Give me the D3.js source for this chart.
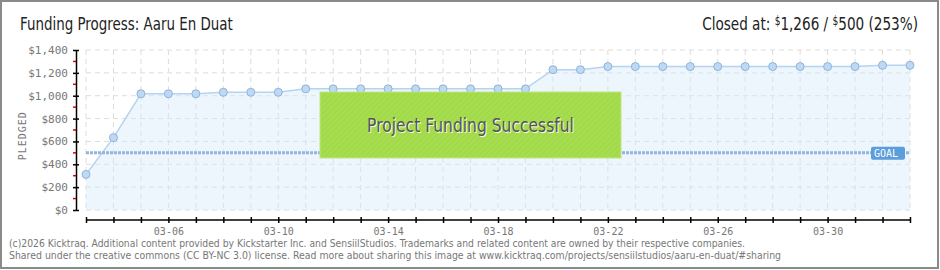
<!DOCTYPE html>
<html lang="en">
<head>
    <meta charset="UTF-8">
    <title>Funding Progress: Aaru En Duat</title>
    <script src="https://d3js.org/d3.v7.min.js"></script>
    <style>
        body { margin: 0; background: #fff; }
        svg { display: block; }
        .title { font-family: "DejaVu Sans", sans-serif; fill: #222; }
        .tick-label { font-family: "DejaVu Sans Mono", monospace; fill: #777; }
        .footer { font-family: "DejaVu Sans", Verdana, sans-serif; font-size: 10px; fill: #777; }
    </style>
</head>
<body>
<div id="chart"></div>
<script>
    // daily pledged totals
    const days = ["03-03","03-04","03-05","03-06","03-07","03-08","03-09","03-10","03-11","03-12",
                  "03-13","03-14","03-15","03-16","03-17","03-18","03-19","03-20","03-21","03-22",
                  "03-23","03-24","03-25","03-26","03-27","03-28","03-29","03-30","03-31","04-01","04-02"];
    const pledged = [311, 633, 1017, 1017, 1017, 1030, 1030, 1030, 1060, 1060,
                     1060, 1060, 1060, 1060, 1060, 1060, 1060, 1228, 1228, 1255,
                     1255, 1255, 1255, 1255, 1255, 1255, 1255, 1255, 1255, 1266, 1266];
    const goal = 500;
    const yTicks = [0, 200, 400, 600, 800, 1000, 1200, 1400];
    const xLabels = ["03-06", "03-10", "03-14", "03-18", "03-22", "03-26", "03-30"];

    const W = 940, H = 270;
    const parse = d3.timeParse("%Y-%m-%d");
    const data = days.map((d, i) => ({ date: parse("2014-" + d), value: pledged[i] }));

    const svg = d3.select("#chart").append("svg")
        .attr("width", W)
        .attr("height", H);

    // squeeze a text element horizontally so it ends up w px wide
    function squeeze(sel, w, anchorX) {
        const len = sel.node().getBBox().width;
        const k = w / len;
        sel.attr("transform", `translate(${anchorX},0) scale(${k},1) translate(${-anchorX},0)`);
    }

    // stripes for the success banner
    const defs = svg.append("defs");
    const pat = defs.append("pattern")
        .attr("id", "stripes")
        .attr("width", 4).attr("height", 4)
        .attr("patternUnits", "userSpaceOnUse")
        .attr("patternTransform", "rotate(45)");
    pat.append("rect").attr("width", 4).attr("height", 4).attr("fill", "#a6dd4f");
    pat.append("rect").attr("width", 1).attr("height", 4).attr("fill", "#9fd749");

    const x = d3.scaleTime()
        .domain(d3.extent(data, d => d.date))
        .range([86, 910]);
    const y = d3.scaleLinear()
        .domain([0, 1400])
        .range([210, 50]);

    // frame
    svg.append("rect")
        .attr("x", 1).attr("y", 1)
        .attr("width", W - 3).attr("height", H - 3)
        .attr("fill", "none")
        .attr("stroke", "#8a8a8a")
        .attr("stroke-width", 2);

    // titles
    const title = svg.append("text").attr("class", "title")
        .attr("x", 20).attr("y", 30)
        .style("font-size", "18px")
        .text("Funding Progress: Aaru En Duat");
    squeeze(title, 213, 20);

    const closed = svg.append("text").attr("class", "title")
        .attr("x", 918).attr("y", 30)
        .attr("text-anchor", "end")
        .style("font-size", "18px");
    closed.append("tspan").text("Closed at:  ");
    closed.append("tspan").style("font-size", "12px").attr("dy", -5).text("$");
    closed.append("tspan").attr("dy", 5).text("1,266 /  ");
    closed.append("tspan").style("font-size", "12px").attr("dy", -5).text("$");
    closed.append("tspan").attr("dy", 5).text("500 (253%)");
    squeeze(closed, 216, 918);

    // grid
    const grid = svg.append("g")
        .attr("stroke", "#dcdcdc")
        .attr("stroke-dasharray", "5,4");
    grid.selectAll("line.gx")
        .data(data)
        .enter().append("line")
        .attr("x1", d => x(d.date)).attr("x2", d => x(d.date))
        .attr("y1", y(1400)).attr("y2", y(0));
    grid.selectAll("line.gy")
        .data(yTicks)
        .enter().append("line")
        .attr("x1", x.range()[0]).attr("x2", x.range()[1])
        .attr("y1", d => y(d)).attr("y2", d => y(d));

    // area + line
    const area = d3.area()
        .x(d => x(d.date))
        .y0(y(0))
        .y1(d => y(d.value));
    svg.append("path")
        .datum(data)
        .attr("d", area)
        .attr("fill", "#d7e8fa")
        .attr("fill-opacity", 0.45);

    const line = d3.line()
        .x(d => x(d.date))
        .y(d => y(d.value));
    svg.append("path")
        .datum(data)
        .attr("d", line)
        .attr("fill", "none")
        .attr("stroke", "#b5d3f2")
        .attr("stroke-width", 1.5);

    // goal line
    svg.append("line")
        .attr("x1", x.range()[0]).attr("x2", x.range()[1])
        .attr("y1", y(goal)).attr("y2", y(goal))
        .attr("stroke", "#92b6e0")
        .attr("stroke-width", 3)
        .attr("stroke-dasharray", "3,1");

    // points
    svg.selectAll("circle.pt")
        .data(data)
        .enter().append("circle")
        .attr("cx", d => x(d.date))
        .attr("cy", d => y(d.value))
        .attr("r", 4)
        .attr("fill", "#bcd9f6")
        .attr("stroke", "#93b3d3")
        .attr("stroke-width", 1);

    // success banner
    const bx = 320, bw = 301, by = 92, bh = 66;
    svg.append("rect")
        .attr("x", bx).attr("y", by)
        .attr("width", bw).attr("height", bh)
        .attr("fill", "url(#stripes)")
        .attr("stroke", "#bfe67e")
        .attr("stroke-width", 1);
    const cx = bx + bw / 2;
    const shadow = svg.append("text").attr("class", "title")
        .attr("x", cx + 1).attr("y", by + 40 + 1)
        .attr("text-anchor", "middle")
        .style("font-size", "19px")
        .style("fill", "#f4fbe8")
        .text("Project Funding Successful");
    squeeze(shadow, 207, cx + 1);
    const banner = svg.append("text").attr("class", "title")
        .attr("x", cx).attr("y", by + 40)
        .attr("text-anchor", "middle")
        .style("font-size", "19px")
        .style("fill", "#555")
        .text("Project Funding Successful");
    squeeze(banner, 207, cx);

    // goal badge
    const gy = y(goal);
    svg.append("rect")
        .attr("x", 871).attr("y", gy - 6)
        .attr("width", 34).attr("height", 13)
        .attr("rx", 2)
        .attr("fill", "#5c9ddb");
    svg.append("text")
        .attr("x", 886).attr("y", gy + 4)
        .attr("text-anchor", "middle")
        .style("font-family", "'DejaVu Sans Mono', monospace")
        .style("font-size", "10px")
        .style("fill", "#fff")
        .text("GOAL");

    // y axis
    const yAxisG = svg.append("g")
        .attr("transform", "translate(76,0)")
        .call(d3.axisLeft(y).tickValues(yTicks).tickSize(0).tickPadding(8)
            .tickFormat(d => "$" + d3.format(",")(d)));
    yAxisG.select(".domain").attr("stroke", "#000").attr("stroke-width", 1.5);
    yAxisG.selectAll(".tick text").attr("class", "tick-label").style("font-size", "11px");
    yAxisG.selectAll(".tick").append("line")
        .attr("x1", -3).attr("x2", 3)
        .attr("stroke", "#000").attr("stroke-width", 1.5);
    yAxisG.selectAll("line.minor")
        .data(d3.range(100, 1400, 200))
        .enter().append("line")
        .attr("x1", -3).attr("x2", 0)
        .attr("y1", d => y(d)).attr("y2", d => y(d))
        .attr("stroke", "#d00").attr("stroke-width", 1.5);

    svg.append("text")
        .attr("transform", `translate(26,${y(650)}) rotate(-90)`)
        .attr("text-anchor", "middle")
        .style("font-family", "'DejaVu Sans Mono', monospace")
        .style("font-size", "10px")
        .style("letter-spacing", "1px")
        .style("fill", "#777")
        .text("PLEDGED");

    // x axis
    const xAxisG = svg.append("g")
        .attr("transform", "translate(0,220)")
        .call(d3.axisBottom(x).tickValues(data.map(d => d.date)).tickSize(3).tickPadding(5)
            .tickFormat(d => {
                const s = d3.timeFormat("%m-%d")(d);
                return xLabels.includes(s) ? s : "";
            }));
    xAxisG.select(".domain").attr("d", `M${x.range()[0]},0H${x.range()[1]}`)
        .attr("stroke", "#000").attr("stroke-width", 1.5);
    xAxisG.selectAll(".tick line").attr("y1", -3).attr("stroke-width", 1.5);
    xAxisG.selectAll(".tick text").attr("class", "tick-label").style("font-size", "10px");

    // footer
    svg.append("text").attr("class", "footer")
        .attr("x", 9).attr("y", 247)
        .attr("textLength", 736).attr("lengthAdjust", "spacingAndGlyphs")
        .text("(c)2026 Kicktraq. Additional content provided by Kickstarter Inc. and SensiilStudios. Trademarks and related content are owned by their respective companies.");
    svg.append("text").attr("class", "footer")
        .attr("x", 9).attr("y", 259)
        .attr("textLength", 772).attr("lengthAdjust", "spacingAndGlyphs")
        .text("Shared under the creative commons (CC BY-NC 3.0) license. Read more about sharing this image at www.kicktraq.com/projects/sensiilstudios/aaru-en-duat/#sharing");
</script>
</body>
</html>
